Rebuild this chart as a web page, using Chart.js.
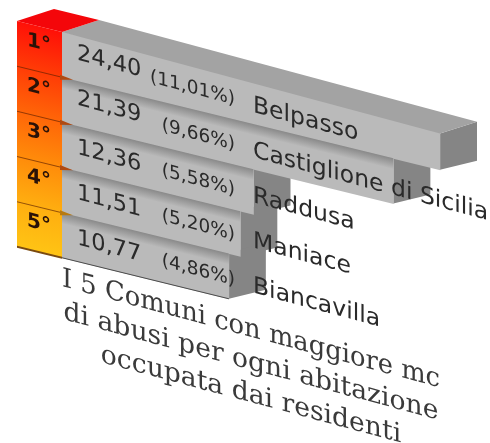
<!DOCTYPE html>
<html>
<head>
<meta charset="utf-8">
<title>I 5 Comuni</title>
<script src="https://cdn.jsdelivr.net/npm/chart.js@4/dist/chart.umd.min.js"></script>
<style>
    html, body { margin: 0; padding: 0; background: #fff; }
    #my_chart { display: block; filter: blur(0.55px); }
</style>
</head>
<body>
<canvas id="my_chart" width="490" height="443"></canvas>
<script>
const comuni = ['Belpasso', 'Castiglione di Sicilia', 'Raddusa', 'Maniace', 'Biancavilla'];
const mc_abitazione = [24.40, 21.39, 12.36, 11.51, 10.77];
const percentuali = [11.01, 9.66, 5.58, 5.20, 4.86];
const posizioni = ['1°', '2°', '3°', '4°', '5°'];
const colori_posizione = ['#ff1008', '#ff3c06', '#ff6608', '#ff8c0a', '#ffae10', '#ffc414'];
const titolo = ['I 5 Comuni con maggiore mc', 'di abusi per ogni abitazione', 'occupata dai residenti'];

const text_skew = 0.268;
const bar_skew = 0.245;
const origin_x = 62;
const depth_x = 37;
const depth_y = -21;
const column_width = 45;
// the upper edge of the first bar runs a bit steeper than the rest
const top_edge_drop = 9;

function comma(v) {
    return v.toFixed(2).replace('.', ',');
}

function poly(ctx, points, color) {
    ctx.fillStyle = color;
    ctx.beginPath();
    points.forEach((p, i) => i ? ctx.lineTo(p[0], p[1]) : ctx.moveTo(p[0], p[1]));
    ctx.closePath();
    ctx.fill();
}

const fake_3d = {
    id: 'fake_3d',
    beforeDraw(chart) {
        chart.ctx.save();
        chart.ctx.transform(1, text_skew, 0, 1, 0, -text_skew * origin_x);
    },
    beforeDatasetsDraw(chart) {
        const ctx = chart.ctx;
        const bars = chart.getDatasetMeta(0).data;
        const d = bar_skew - text_skew;

        ctx.save();
        ctx.transform(1, d, 0, 1, 0, -d * origin_x);

        // end faces, top bar first so the lower ones stay in front
        bars.forEach((b, i) => {
            const y0 = b.y - b.height / 2 + (i === 0 ? top_edge_drop : 0);
            const y1 = b.y + b.height / 2;
            poly(ctx, [[b.x, y0], [b.x + depth_x, y0 + depth_y], [b.x + depth_x, y1 + depth_y + 3], [b.x, y1]], '#858585');
        });
    },
    afterDatasetsDraw(chart) {
        const ctx = chart.ctx;
        const bars = chart.getDatasetMeta(0).data;
        const left = origin_x - column_width;
        const first = bars[0];
        const top = first.y - first.height / 2;
        const last = bars[bars.length - 1];
        const bottom = last.y + last.height / 2;

        // top faces
        poly(ctx, [[origin_x, top], [first.x, top + top_edge_drop], [first.x + depth_x, top + top_edge_drop + depth_y], [origin_x + depth_x, top + depth_y]], '#a3a3a3');
        poly(ctx, [[left, top], [origin_x, top], [origin_x + depth_x, top + depth_y], [left + depth_x, top + depth_y]], '#f4060a');

        // coloured rank column
        const g = ctx.createLinearGradient(0, top, 0, bottom);
        colori_posizione.forEach((c, i) => g.addColorStop(i / (colori_posizione.length - 1), c));
        ctx.fillStyle = g;
        ctx.fillRect(left, top, column_width, bottom - top);

        bars.forEach((b, i) => {
            if(i === 0) return;
            const y0 = b.y - b.height / 2;

            // shadow of the bar above
            const s = ctx.createLinearGradient(0, y0, 0, y0 + 11);
            s.addColorStop(0, 'rgba(105,105,105,0.6)');
            s.addColorStop(1, 'rgba(105,105,105,0)');
            ctx.fillStyle = s;
            ctx.fillRect(origin_x, y0, b.x - origin_x, 11);

            ctx.strokeStyle = 'rgba(90,30,0,0.65)';
            ctx.lineWidth = 1;
            ctx.beginPath();
            ctx.moveTo(left, y0);
            ctx.lineTo(origin_x, y0);
            ctx.stroke();
            poly(ctx, [[origin_x - 2, y0 - 2], [origin_x + 11, y0], [origin_x - 2, y0 + 3]], i === 4 ? '#b87a10' : '#b04a12');
        });

        // bottom edge
        ctx.strokeStyle = '#4a4a4a';
        ctx.lineWidth = 1;
        ctx.beginPath();
        ctx.moveTo(origin_x, bottom);
        ctx.lineTo(last.x, bottom);
        ctx.stroke();
        ctx.strokeStyle = '#7a4a10';
        ctx.lineWidth = 2;
        ctx.beginPath();
        ctx.moveTo(left, bottom);
        ctx.lineTo(origin_x, bottom);
        ctx.stroke();

        ctx.restore();

        // texts follow the steeper skew
        bars.forEach((b, i) => {
            ctx.textBaseline = 'middle';

            ctx.textAlign = 'center';
            ctx.font = 'bold 20px "DejaVu Sans"';
            ctx.fillStyle = '#2a1208';
            ctx.fillText(posizioni[i], left + 22, b.y - 5);

            ctx.fillStyle = '#2a2a2a';
            ctx.textAlign = 'left';
            ctx.font = '22.5px "DejaVu Sans"';
            ctx.fillText(comma(mc_abitazione[i]), 77, b.y + (i < 2 ? -5 : -1));

            ctx.textAlign = 'right';
            ctx.font = '18.5px "DejaVu Sans"';
            ctx.fillText(`(${comma(percentuali[i])}%)`, 235, b.y - 1);

            ctx.textAlign = 'left';
            ctx.font = '23.5px "DejaVu Sans"';
            ctx.fillText(comuni[i], 253, b.y);
        });
    },
    afterDraw(chart) {
        chart.ctx.restore();
    }
};

const chart = new Chart(document.getElementById('my_chart'), {
    type: 'bar',
    data: {
        labels: comuni,
        datasets: [{
            label: 'mc',
            data: mc_abitazione,
            backgroundColor: '#bababa',
            borderWidth: 0,
            barPercentage: 1,
            categoryPercentage: 1,
            clip: false
        }]
    },
    options: {
        indexAxis: 'y',
        responsive: false,
        animation: false,
        layout: { padding: { left: origin_x, right: 50, top: 32, bottom: 0 } },
        scales: {
            x: { display: false, min: 0, max: 24.4 },
            y: { display: false }
        },
        plugins: {
            legend: { display: false },
            tooltip: { enabled: false },
            title: {
                display: true,
                position: 'bottom',
                text: titolo,
                color: '#3a3a3a',
                font: { family: '"DejaVu Serif"', size: 26.6, weight: 'normal', lineHeight: 1.23 },
                padding: { top: 5, bottom: 82 }
            }
        }
    },
    plugins: [fake_3d]
});
</script>
</body>
</html>
